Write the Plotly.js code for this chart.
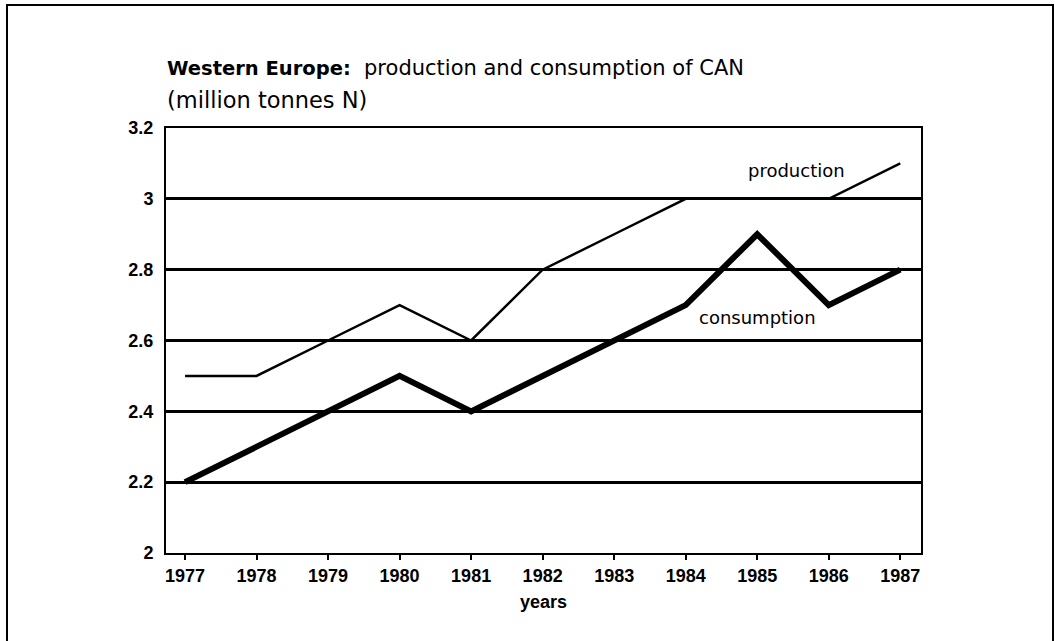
<!DOCTYPE html>
<html>
<head>
<meta charset="utf-8">
<script src="https://cdn.plot.ly/plotly-3.0.1.min.js"></script>
<style>html,body{margin:0;padding:0;background:#fff;}#chart{width:1055px;height:641px;}</style>
</head>
<body>
<div id="chart"></div>
<script>
const years = [1977, 1978, 1979, 1980, 1981, 1982, 1983, 1984, 1985, 1986, 1987];
const production = [2.5, 2.5, 2.6, 2.7, 2.6, 2.8, 2.9, 3.0, 3.0, 3.0, 3.1];
const consumption = [2.2, 2.3, 2.4, 2.5, 2.4, 2.5, 2.6, 2.7, 2.9, 2.7, 2.8];
const yTickVals = [2, 2.2, 2.4, 2.6, 2.8, 3, 3.2];
const yTickText = ['2', '2.2', '2.4', '2.6', '2.8', '3', '3.2'];
const titleBold = 'Western Europe:';
const titleRest = 'production and consumption of CAN';
const titleLine2 = '(million tonnes N)';

const FONT = '"Liberation Sans", Arial, Helvetica, sans-serif';
const WIDE = '"DejaVu Sans", Verdana, sans-serif';

const traces = [
  {x: years, y: production, type: 'scatter', mode: 'lines', name: 'production',
   line: {color: '#000', width: 2.5}},
  {x: years, y: consumption, type: 'scatter', mode: 'lines', name: 'consumption',
   line: {color: '#000', width: 6}}
];

const layout = {
  width: 1055, height: 641,
  margin: {l: 166, r: 134, t: 128, b: 88},
  paper_bgcolor: '#fff', plot_bgcolor: '#fff',
  showlegend: false,
  font: {family: FONT, color: '#000'},
  xaxis: {
    range: [1976.734, 1987.29],
    tickvals: years, ticktext: years.map(String),
    ticks: 'outside', ticklen: 5, tickwidth: 2, tickcolor: '#000',
    showline: true, linecolor: '#000', linewidth: 2, mirror: true,
    showgrid: false, zeroline: false,
    tickfont: {family: FONT, size: 18, color: '#000', weight: 'bold'},
    ticklabelstandoff: 0,
    title: {text: '<b>years</b>', font: {family: FONT, size: 18, color: '#000'}, standoff: 11}
  },
  yaxis: {
    range: [2, 3.2],
    tickvals: yTickVals, ticktext: yTickText,
    ticks: '',
    showline: true, linecolor: '#000', linewidth: 2, mirror: true,
    showgrid: true, gridcolor: '#000', gridwidth: 3,
    zeroline: false,
    tickfont: {family: FONT, size: 18, color: '#000', weight: 'bold'},
    ticklabelstandoff: 7
  },
  annotations: [
    {xref: 'paper', yref: 'paper', x: -1 / 755, y: (553 - 68) / 425, xanchor: 'left', yanchor: 'middle',
     text: '<span style="font-size:19.5px"><b>' + titleBold + '</b></span>\u00a0 ' + titleRest, showarrow: false,
     font: {family: WIDE, size: 21, color: '#000'}},
    {xref: 'paper', yref: 'paper', x: -1 / 755, y: (553 - 100) / 425, xanchor: 'left', yanchor: 'middle',
     text: titleLine2, showarrow: false,
     font: {family: WIDE, size: 22.5, color: '#000'}},
    {xref: 'x', yref: 'y', x: 1985.55, y: 3.08, xanchor: 'center', yanchor: 'middle',
     text: 'production', showarrow: false,
     font: {family: WIDE, size: 18, color: '#000'}},
    {xref: 'x', yref: 'y', x: 1985.0, y: 2.665, xanchor: 'center', yanchor: 'middle',
     text: 'consumption', showarrow: false,
     font: {family: WIDE, size: 18, color: '#000'}}
  ],
  shapes: [
    {type: 'rect', xref: 'paper', yref: 'paper',
     x0: (7 - 166) / 755, x1: (1053 - 166) / 755,
     y0: -0.4, y1: (553 - 5) / 425,
     line: {color: '#000', width: 2}, fillcolor: 'rgba(0,0,0,0)', layer: 'below'}
  ]
};

Plotly.newPlot('chart', traces, layout, {displayModeBar: false, staticPlot: true});
</script>
</body>
</html>
